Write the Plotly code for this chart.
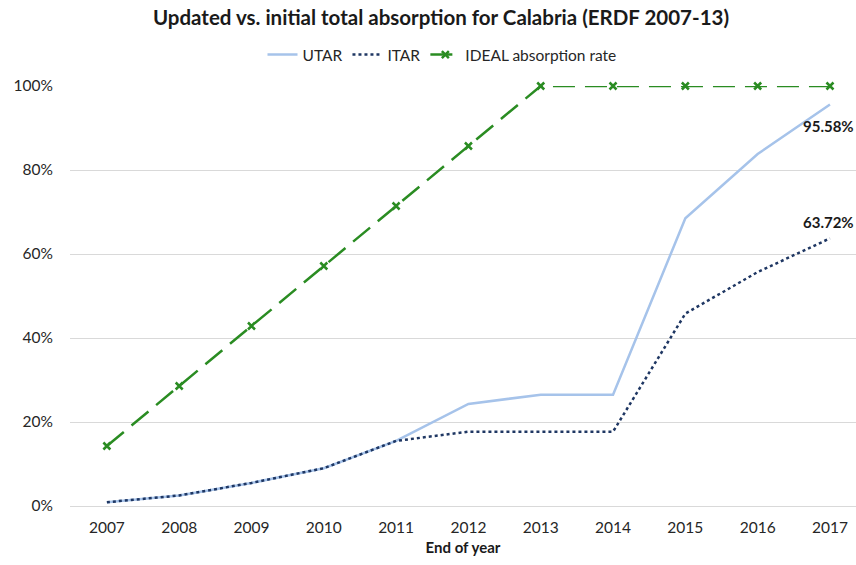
import plotly.graph_objects as go

years = [2007, 2008, 2009, 2010, 2011, 2012, 2013, 2014, 2015, 2016, 2017]
utar = [0.009, 0.025, 0.055, 0.090, 0.155, 0.243, 0.265, 0.265, 0.685, 0.838, 0.9558]
itar = [0.009, 0.025, 0.055, 0.090, 0.155, 0.177, 0.177, 0.177, 0.458, 0.557, 0.6372]
ideal = [1/7, 2/7, 3/7, 4/7, 5/7, 6/7, 1.0, 1.0, 1.0, 1.0, 1.0]
y_ticks = [0, 0.2, 0.4, 0.6, 0.8, 1.0]
y_tick_labels = ["0%", "20%", "40%", "60%", "80%", "100%"]
end_labels = ["95.58%", "63.72%"]

FONT = "Lato"
H = 565
T, B = 20, 59
inner_h = H - T - B          # 486
plot_h = 420                  # plot area from y=86 to y=506
dom_top = plot_h / inner_h

fig = go.Figure()
fig.add_trace(go.Scatter(
    x=years, y=utar, name="UTAR", mode="lines",
    line=dict(color="#A6C3EA", width=2.5),
))
fig.add_trace(go.Scatter(
    x=years, y=itar, name="ITAR", mode="lines",
    line=dict(color="#1F3763", width=2.5, dash="dot"),
))
fig.add_trace(go.Scatter(
    x=years, y=ideal, name="IDEAL absorption rate", mode="lines+markers",
    line=dict(color="#2A8C22", width=2.5, dash="22px,10px"),
    marker=dict(symbol="x-thin", size=7, line=dict(color="#2A8C22", width=2.5)),
    cliponaxis=False,
))

fig.add_annotation(x=1, xref="paper", y=utar[-1], text="<b>" + end_labels[0] + "</b>",
                   showarrow=False, xanchor="right", yanchor="middle",
                   yshift=-21, font=dict(family=FONT, size=15, color="#1a1a1a"))
fig.add_annotation(x=1, xref="paper", y=itar[-1], text="<b>" + end_labels[1] + "</b>",
                   showarrow=False, xanchor="right", yanchor="middle",
                   yshift=16, font=dict(family=FONT, size=15, color="#1a1a1a"))

fig.update_layout(
    width=856, height=H,
    margin=dict(l=70, r=0, t=T, b=B, autoexpand=False),
    paper_bgcolor="white", plot_bgcolor="white",
    font=dict(family=FONT, size=15, color="#262626"),
    title=dict(text="<b>Updated vs. initial total absorption for Calabria (ERDF 2007-13)</b>",
               x=441 / 856, xanchor="center", y=1 - 18 / H, yanchor="middle",
               font=dict(family=FONT, size=20.5, color="#1a1a1a")),
    legend=dict(orientation="h", x=(442 - 70) / 786, xanchor="center",
                y=(H - B - 55) / inner_h, yanchor="middle",
                font=dict(family=FONT, size=15.5, color="#262626"),
                tracegroupgap=0),
    showlegend=True,
)
fig.update_xaxes(
    range=[2006.49, 2017.36], tickmode="array", tickvals=years,
    ticktext=[str(y) for y in years], showgrid=False, zeroline=False,
    showline=False, ticks="", automargin=False, ticklabelstandoff=10,
    title=dict(text="<b>End of year</b>", font=dict(family=FONT, size=15, color="#1a1a1a"), standoff=7),
    tickfont=dict(family=FONT, size=15.5),
)
fig.update_yaxes(
    domain=[0, dom_top],
    range=[0, 1.0], tickmode="array", tickvals=y_ticks, ticktext=y_tick_labels,
    showgrid=True, gridcolor="#D9D9D9", gridwidth=1, zeroline=True,
    zerolinecolor="#D9D9D9", zerolinewidth=1, showline=False, ticks="",
    ticklabelstandoff=16, tickfont=dict(family=FONT, size=15.5), automargin=False,
)

fig.write_html("out.html", config={"displayModeBar": False},
               post_script="document.body.style.margin='0';document.body.style.overflow='hidden';")
